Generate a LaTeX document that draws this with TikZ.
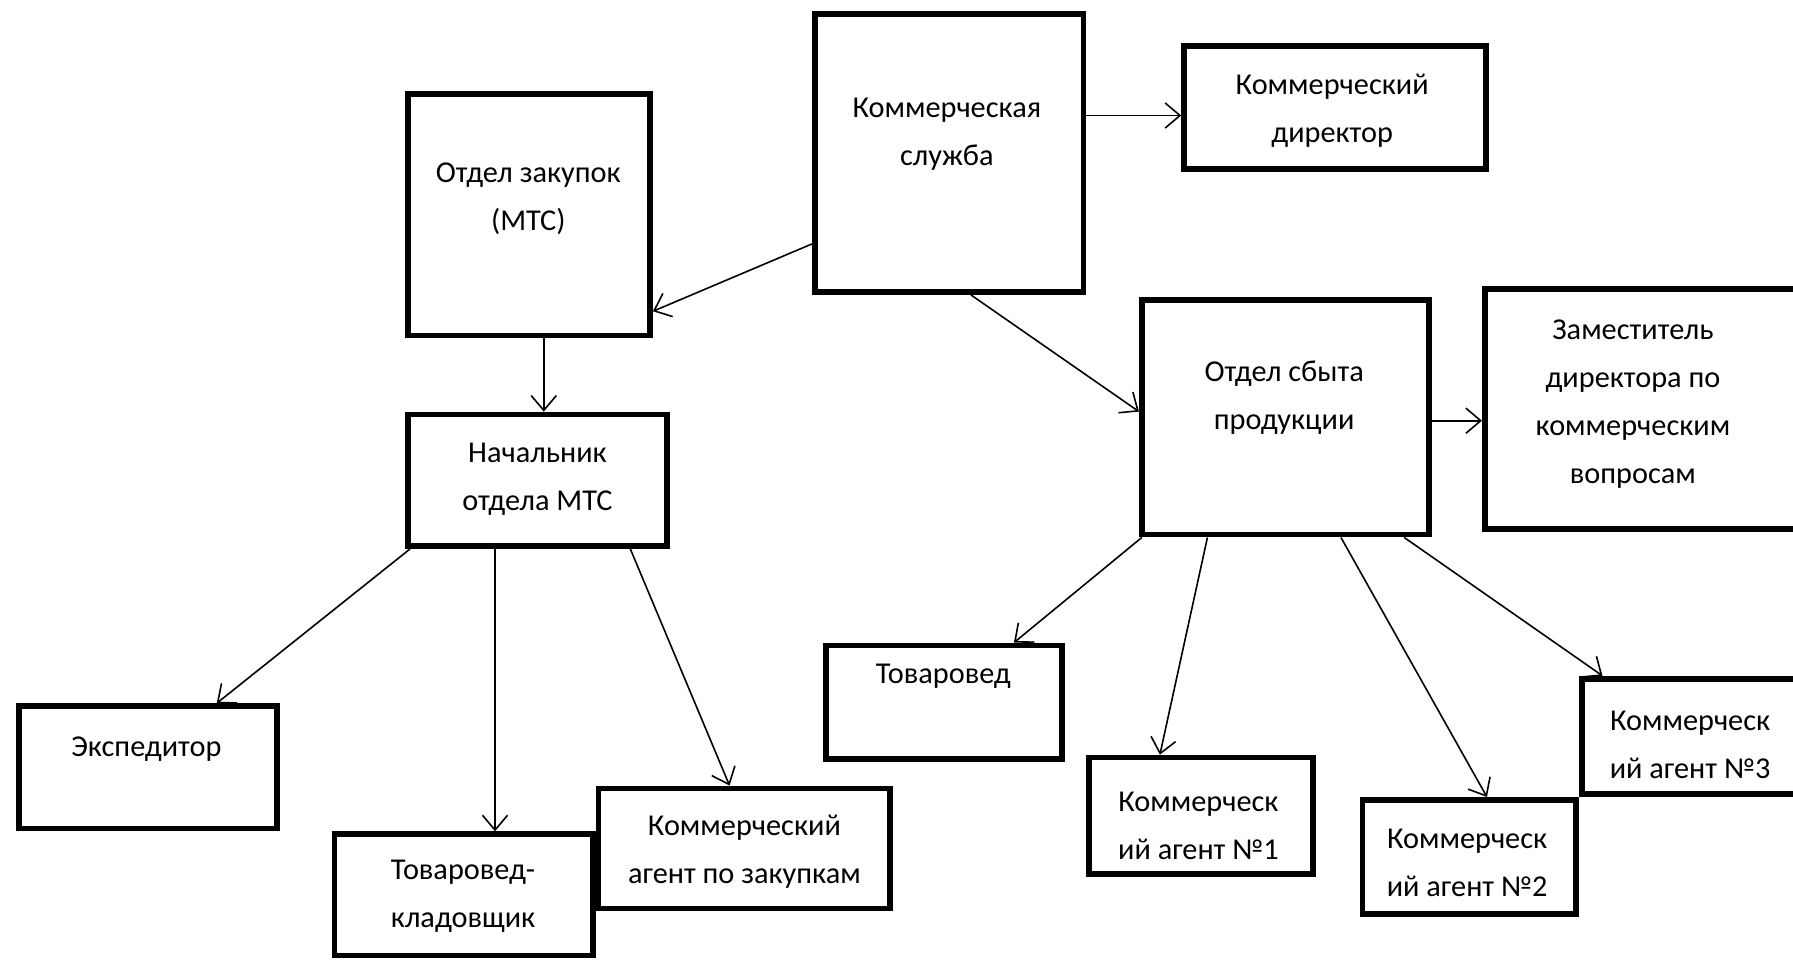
\documentclass[tikz,border=0pt]{standalone}
\usepackage{fontspec}
\setmainfont{Carlito}
\usetikzlibrary{arrows.meta,calc}
\begin{document}
\begin{tikzpicture}[x=1pt,y=1pt,
  box/.style={draw=black,line width=5pt,fill=white,rectangle,inner sep=0pt},
  txt/.style={align=center,inner sep=0pt,font=\fontsize{26.5}{42}\selectfont},
  conn/.style={line width=1.4pt,-{Straight Barb[length=13pt,width=22pt,line width=1.4pt]}}]
\useasboundingbox (0,0) rectangle (1568,840);
\fill[white] (0,0) rectangle (1568,840);
\begin{scope}
\clip (0,0) rectangle (1568,840);
% boxes
\node[box,minimum width=235,minimum height=243] (ks) at (830,706) {};
\node[box,minimum width=264,minimum height=107] (kd) at (1167.5,746) {};
\node[box,minimum width=212,minimum height=211] (oz) at (462.5,652) {};
\node[box,minimum width=227,minimum height=115] (nach) at (470,420) {};
\node[box,minimum width=251,minimum height=205] (os) at (1124,475) {};
\node[box,minimum width=309,minimum height=210] (zam) at (1453,482.5) {};
\node[box,minimum width=226,minimum height=107] (eks) at (129.5,169) {};
\node[box,minimum width=226,minimum height=106] (tk) at (405.5,57.5) {};
\node[box,minimum width=255,minimum height=105] (kaz) at (651,98) {};
\node[box,minimum width=206,minimum height=99] (tov) at (825.5,226) {};
\node[box,minimum width=196,minimum height=102] (ka1) at (1050.5,126.5) {};
\node[box,minimum width=214,minimum height=101] (ka3) at (1490.5,196) {};
\node[box,minimum width=187,minimum height=100] (ka2) at (1285,90.5) {};
% texts
\node[txt] (ks-t) at (828,722.5) {Коммерческая\\служба};
\node[txt] (kd-t) at (1165,743) {Коммерческий\\директор};
\node[txt] (oz-t) at (462,666) {Отдел закупок\\(МТС)};
\node[txt] (nach-t) at (470,420.5) {Начальник\\отдела МТС};
\node[txt] (os-t) at (1123,492) {Отдел сбыта\\продукции};
\node[txt] (zam-t) at (1428,486.5) {Заместитель\\директора по\\коммерческим\\вопросам};
\node[txt] (eks-t) at (128,185) {Экспедитор};
\node[txt] (tk-t) at (405,56) {Товаровед-\\кладовщик};
\node[txt] (kaz-t) at (651,95.5) {Коммерческий\\агент по закупкам};
\node[txt] (tov-t) at (825,249) {Товаровед};
\node[txt] (ka1-t) at (1048,118) {Коммерческ\\ий агент №1};
\node[txt] (ka2-t) at (1283,85) {Коммерческ\\ий агент №2};
\node[txt] (ka3-t) at (1478,188.5) {Коммерческ\\ий агент №3};
% connectors
\coordinate (a1) at ($(ks.north east)!0.367!(ks.south east)$);
\draw[conn] (a1) -- (a1 -| kd.west);
\draw[conn] ($(ks.north west)!0.82!(ks.south west)$) -- ($(oz.north east)!0.89!(oz.south east)$);
\coordinate (a3) at ($(oz.south west)!0.56!(oz.south east)$);
\draw[conn] (a3) -- (a3 |- nach.north);
\draw[conn] ($(ks.south west)!0.58!(ks.south east)$) -- ($(os.north west)!0.476!(os.south west)$);
\coordinate (a5) at ($(os.north east)!0.514!(os.south east)$);
\draw[conn] (a5) -- (a5 -| zam.west);
\draw[conn] ($(nach.south west)!0.02!(nach.south east)$) -- ($(eks.north west)!0.76!(eks.north east)$);
\coordinate (a7) at ($(nach.south west)!0.34!(nach.south east)$);
\draw[conn] (a7) -- (a7 |- tk.north);
\draw[conn] ($(nach.south west)!0.85!(nach.south east)$) -- ($(kaz.north west)!0.45!(kaz.north east)$);
\draw[conn] ($(os.south west)!0.01!(os.south east)$) -- ($(tov.north west)!0.79!(tov.north east)$);
\draw[conn] ($(os.south west)!0.234!(os.south east)$) -- ($(ka1.north west)!0.32!(ka1.north east)$);
\draw[conn] ($(os.south west)!0.69!(os.south east)$) -- ($(ka2.north west)!0.58!(ka2.north east)$);
\draw[conn] ($(os.south west)!0.906!(os.south east)$) -- ($(ka3.north west)!0.093!(ka3.north east)$);
\end{scope}
\end{tikzpicture}
\end{document}
